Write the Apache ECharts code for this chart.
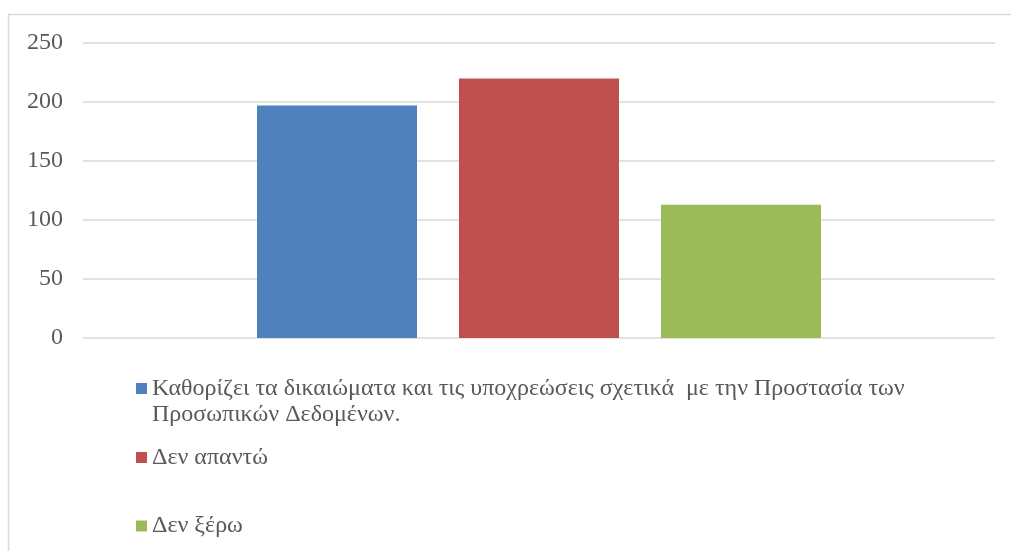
<!DOCTYPE html>
<html>
<head>
<meta charset="utf-8">
<script src="https://cdn.jsdelivr.net/npm/echarts@6/dist/echarts.min.js"></script>
<style>
html,body{margin:0;padding:0;background:#fff;}
#chart{width:1011px;height:551px;}
</style>
</head>
<body>
<div id="chart"></div>
<script>
var categories = [''];
var seriesNames = [
  'Καθορίζει τα δικαιώματα και τις υποχρεώσεις σχετικά  με την Προστασία των Προσωπικών Δεδομένων.',
  'Δεν απαντώ',
  'Δεν ξέρω'
];
var seriesValues = [[197], [220], [113]];
var seriesColors = ['#4F81BD', '#C0504D', '#9BBB59'];
var yTicks = [0, 50, 100, 150, 200, 250];

var chart = echarts.init(document.getElementById('chart'));
var textColor = '#595959';
var font = 'Liberation Serif';

function legendFor(i, top, fmt) {
  return {
    data: [seriesNames[i]],
    orient: 'vertical',
    left: 136,
    top: top,
    padding: 0,
    itemWidth: 11,
    itemHeight: 11,
    icon: 'rect',
    selectedMode: false,
    formatter: fmt,
    textStyle: {
      color: textColor,
      fontFamily: font,
      fontSize: 24,
      lineHeight: 26
    }
  };
}

var option = {
  animation: false,
  backgroundColor: '#fff',
  graphic: [{
    type: 'rect',
    shape: { x: 8.5, y: 14.5, width: 1200, height: 1000 },
    style: { fill: 'none', stroke: '#D9D9D9', lineWidth: 1.5 },
    silent: true
  }],
  legend: [
    legendFor(0, 349.5, function (n) { return '\n' + n.replace(' Προσωπικών', '\nΠροσωπικών'); }),
    legendFor(1, 444.5, '{name}'),
    legendFor(2, 513, '{name}')
  ],
  grid: { left: 83, right: 16, top: 43, bottom: 213, containLabel: false },
  xAxis: {
    type: 'category',
    data: categories,
    axisLine: { show: false },
    axisTick: { show: false },
    axisLabel: { show: false },
    splitLine: { show: false }
  },
  yAxis: {
    type: 'value',
    min: yTicks[0],
    max: yTicks[yTicks.length - 1],
    interval: 50,
    axisLine: { show: false },
    axisTick: { show: false },
    axisLabel: { color: textColor, fontFamily: font, fontSize: 24, margin: 20 },
    splitLine: { lineStyle: { color: '#D9D9D9', width: 1.5 } }
  },
  series: seriesNames.map(function (name, i) {
    return {
      name: name,
      type: 'bar',
      data: seriesValues[i],
      barWidth: 160,
      barGap: '26.25%',
      itemStyle: { color: seriesColors[i] }
    };
  })
};
chart.setOption(option);
</script>
</body>
</html>
